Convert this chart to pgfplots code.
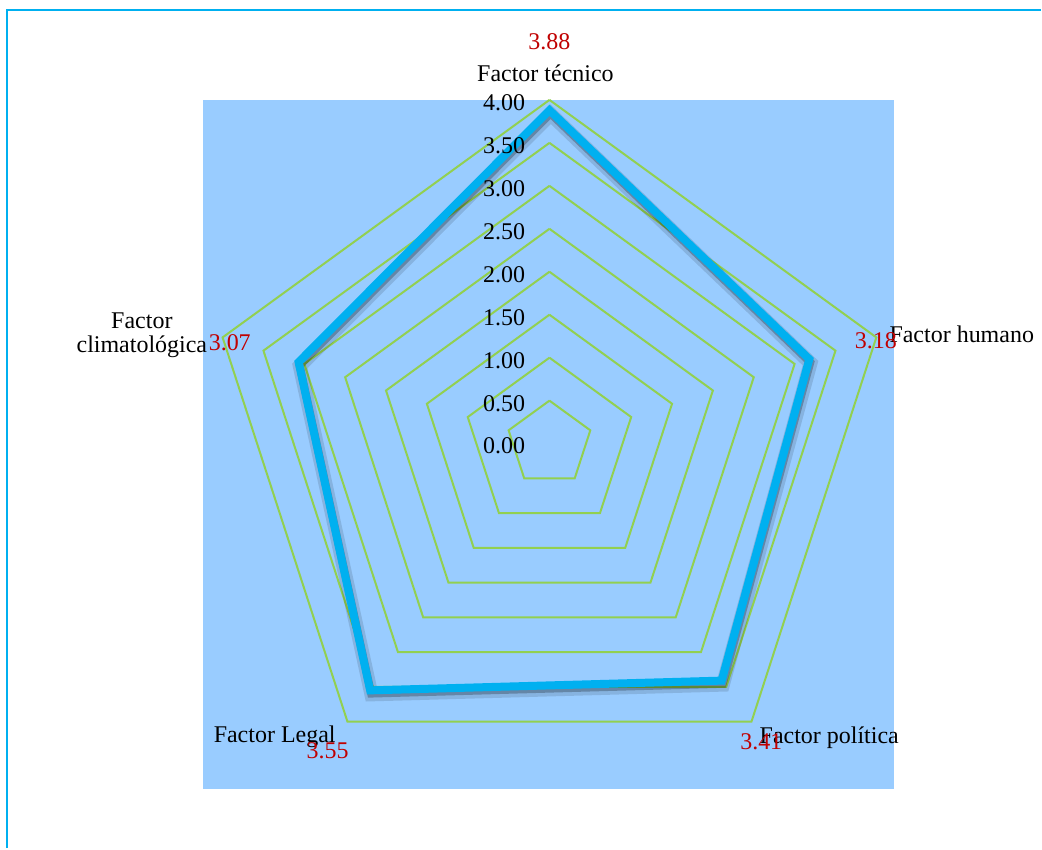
\documentclass[border=0pt]{standalone}
\usepackage{fontspec}
\setmainfont{Liberation Serif}
\usepackage{pgfplots}
\pgfplotsset{compat=1.18}
\definecolor{bgblue}{HTML}{99CCFF}
\definecolor{gridgreen}{HTML}{92D050}
\definecolor{linecyan}{HTML}{00B0F0}
\definecolor{valred}{HTML}{C00000}

\begin{document}
\begin{tikzpicture}[every node/.style={inner sep=0pt}]
\begin{axis}[
	x=43pt, y=43pt,
	xmin=-6.395, xmax=5.721,
	ymin=-4.709, ymax=5.163,
	axis lines=none,
	clip=false,
	font=\fontsize{12}{14}\selectfont,
	]
	% page extent and the chart area border
	\path (axis cs:-6.395,-4.709) rectangle (axis cs:5.721,5.163);
	\draw[linecyan, line width=1pt] (axis cs:-6.314,-4.709) -- (axis cs:-6.314,5.047) -- (axis cs:5.721,5.047);
	% plot area
	\fill[bgblue] (axis cs:-4.035,-4.023) rectangle (axis cs:4.012,4.0);

	% pentagon grid, one ring per 0.5
	\addplot[gridgreen, line width=1pt, data cs=polar] coordinates {(90,0.5)(18,0.5)(-54,0.5)(-126,0.5)(162,0.5)(90,0.5)};
	\addplot[gridgreen, line width=1pt, data cs=polar] coordinates {(90,1.0)(18,1.0)(-54,1.0)(-126,1.0)(162,1.0)(90,1.0)};
	\addplot[gridgreen, line width=1pt, data cs=polar] coordinates {(90,1.5)(18,1.5)(-54,1.5)(-126,1.5)(162,1.5)(90,1.5)};
	\addplot[gridgreen, line width=1pt, data cs=polar] coordinates {(90,2.0)(18,2.0)(-54,2.0)(-126,2.0)(162,2.0)(90,2.0)};
	\addplot[gridgreen, line width=1pt, data cs=polar] coordinates {(90,2.5)(18,2.5)(-54,2.5)(-126,2.5)(162,2.5)(90,2.5)};
	\addplot[gridgreen, line width=1pt, data cs=polar] coordinates {(90,3.0)(18,3.0)(-54,3.0)(-126,3.0)(162,3.0)(90,3.0)};
	\addplot[gridgreen, line width=1pt, data cs=polar] coordinates {(90,3.5)(18,3.5)(-54,3.5)(-126,3.5)(162,3.5)(90,3.5)};
	\addplot[gridgreen, line width=1pt, data cs=polar] coordinates {(90,4.0)(18,4.0)(-54,4.0)(-126,4.0)(162,4.0)(90,4.0)};

	% series: shadow then line
	\addplot[black, opacity=0.12, line width=7pt, line join=miter, data cs=polar, xshift=0.6pt, yshift=-2pt]
		coordinates {(90,3.88)(18,3.18)(-54,3.41)(-126,3.55)(162,3.07)(90,3.88)(18,3.18)};
	\addplot[black, opacity=0.25, line width=4pt, line join=miter, data cs=polar, xshift=0.5pt, yshift=-1.6pt]
		coordinates {(90,3.88)(18,3.18)(-54,3.41)(-126,3.55)(162,3.07)(90,3.88)(18,3.18)};
	\addplot[linecyan, line width=4pt, line join=miter, data cs=polar]
		coordinates {(90,3.88)(18,3.18)(-54,3.41)(-126,3.55)(162,3.07)(90,3.88)(18,3.18)};

	% radial tick labels, over the series
	\node[anchor=east] at (axis cs:-0.28,-0.03) {0.00};
	\node[anchor=east] at (axis cs:-0.28,0.47) {0.50};
	\node[anchor=east] at (axis cs:-0.28,0.97) {1.00};
	\node[anchor=east] at (axis cs:-0.28,1.47) {1.50};
	\node[anchor=east] at (axis cs:-0.28,1.97) {2.00};
	\node[anchor=east] at (axis cs:-0.28,2.47) {2.50};
	\node[anchor=east] at (axis cs:-0.28,2.97) {3.00};
	\node[anchor=east] at (axis cs:-0.28,3.47) {3.50};
	\node[anchor=east] at (axis cs:-0.28,3.97) {4.00};

	% category names
	\node at (axis cs:-0.047,4.314) {Factor técnico};
	\node[anchor=west] at (axis cs:3.953,1.267) {Factor humano};
	\node[anchor=west] at (axis cs:2.442,-3.419) {Factor política};
	\node at (axis cs:-3.198,-3.407) {Factor Legal};
	\node[align=center] at (axis cs:-4.744,1.256) {Factor\\[-2pt]climatológica};

	% value labels
	\node[valred] at (axis cs:0,4.674) {3.88};
	\node[valred] at (axis cs:3.80,1.198) {3.18};
	\node[valred] at (axis cs:2.465,-3.465) {3.41};
	\node[valred] at (axis cs:-2.581,-3.570) {3.55};
	\node[valred] at (axis cs:-3.721,1.174) {3.07};
\end{axis}
\end{tikzpicture}
\end{document}
